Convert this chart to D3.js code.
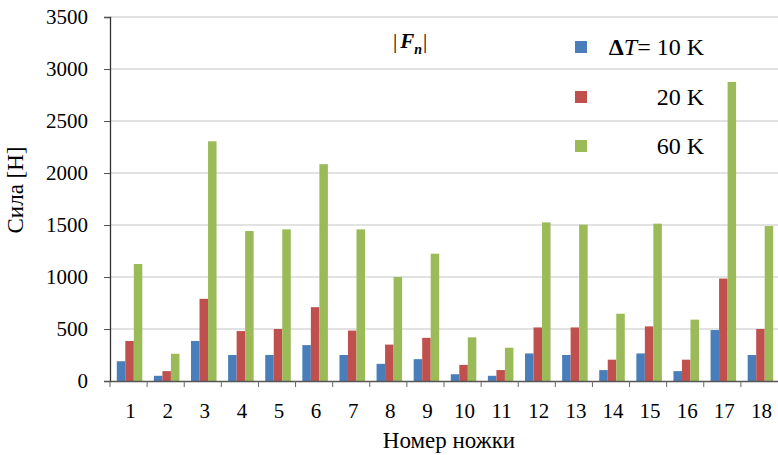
<!DOCTYPE html>
<html>
<head>
<meta charset="utf-8">
<script src="https://cdn.jsdelivr.net/npm/d3@7"></script>
<style>
  html, body { margin: 0; padding: 0; background: #fff; }
  svg { display: block; }
</style>
</head>
<body>
<svg id="chart" width="778" height="455"></svg>
<script>
// Leg numbers (x categories)
const legs = ["1","2","3","4","5","6","7","8","9","10","11","12","13","14","15","16","17","18"];
// Force magnitude |F_n| in N for each temperature difference
const dT10 = [190, 50, 385, 250, 250, 345, 250, 165, 210, 65, 50, 265, 250, 105, 265, 95, 490, 250];
const dT20 = [385, 95, 790, 480, 500, 710, 485, 350, 415, 155, 105, 515, 515, 205, 525, 205, 985, 500];
const dT60 = [1125, 262, 2305, 1442, 1458, 2085, 1458, 1000, 1224, 420, 320, 1525, 1503, 647, 1513, 590, 2875, 1490];
const seriesNames = ["10 K", "20 K", "60 K"];
const seriesColors = ["#4a7ebb", "#c0504d", "#9bbb59"];
const yTicks = [0, 500, 1000, 1500, 2000, 2500, 3000, 3500];

const SERIF = '"Liberation Serif", "Times New Roman", serif';
const svg = d3.select("#chart");
const margin = { left: 110, right: 0, top: 17, bottom: 74 };
const W = 778, H = 455;

const x = d3.scaleBand().domain(legs).range([margin.left, W - margin.right]).padding(0);
const xIn = d3.scaleBand().domain(d3.range(3)).range([0, x.bandwidth()]).paddingInner(0).paddingOuter(0.68);
const y = d3.scaleLinear().domain([0, 3500]).range([H - margin.bottom, margin.top]);

// horizontal grid
svg.append("g")
  .selectAll("line").data(yTicks.filter(d => d > 0)).join("line")
  .attr("x1", margin.left).attr("x2", W)
  .attr("y1", d => y(d)).attr("y2", d => y(d))
  .attr("stroke", "#c6c6c6").attr("stroke-width", 1.2);

// bars
const series = [dT10, dT20, dT60];
const groups = svg.append("g").selectAll("g").data(legs).join("g")
  .attr("transform", d => `translate(${x(d) + 1},0)`);
groups.selectAll("rect")
  .data((d, i) => series.map((s, k) => ({ k, v: s[i] })))
  .join("rect")
  .attr("x", d => xIn(d.k))
  .attr("width", xIn.bandwidth())
  .attr("y", d => y(d.v))
  .attr("height", d => y(0) - y(d.v))
  .attr("fill", d => seriesColors[d.k]);

// y axis
const yAxis = svg.append("g")
  .attr("transform", `translate(${margin.left},0)`)
  .call(d3.axisLeft(y).tickValues(yTicks).tickSize(6).tickPadding(16).tickFormat(d3.format("d")));
yAxis.select(".domain").attr("stroke", "#333").attr("stroke-width", 1.3);
yAxis.selectAll(".tick line").attr("stroke", "#555");
yAxis.selectAll(".tick text").style("font-family", SERIF).attr("font-size", 21).attr("fill", "#000");

// x axis
const xAxis = svg.append("g")
  .attr("transform", `translate(0,${y(0)})`)
  .call(d3.axisBottom(x).tickSize(0).tickPadding(22));
xAxis.select(".domain").attr("stroke", "#555").attr("stroke-width", 1.3);
xAxis.selectAll(".tick text").style("font-family", SERIF).attr("font-size", 21).attr("fill", "#000").attr("dx", 2);
// boundary tick marks between categories
svg.append("g").selectAll("line").data(legs).join("line")
  .attr("x1", d => x(d)).attr("x2", d => x(d))
  .attr("y1", y(0)).attr("y2", y(0) + 6)
  .attr("stroke", "#666").attr("stroke-width", 1);

// axis titles
svg.append("text")
  .attr("transform", `translate(23,190) rotate(-90)`)
  .style("font-family", SERIF)
  .attr("text-anchor", "middle").attr("font-size", 23).attr("fill", "#000")
  .text("Сила [Н]");
svg.append("text")
  .attr("x", 449).attr("y", 448)
  .style("font-family", SERIF)
  .attr("text-anchor", "middle").attr("font-size", 23).attr("fill", "#000")
  .text("Номер ножки");

// chart label |F_n|
const t = svg.append("text").attr("x", 393).attr("y", 48).attr("font-size", 21).attr("fill", "#000")
  .style("font-family", SERIF);
t.append("tspan").text("|");
t.append("tspan").attr("font-style", "italic").attr("font-weight", "bold").attr("dx", 3).text("F");
t.append("tspan").attr("font-style", "italic").attr("font-weight", "bold").attr("font-size", 14).attr("dy", 6).text("n");
t.append("tspan").attr("dy", -6).attr("dx", 1).text("|");

// legend
const legendY = [47, 97, 146];
const lg = svg.append("g");
seriesNames.forEach((name, i) => {
  lg.append("rect")
    .attr("x", 575).attr("y", legendY[i] - 6)
    .attr("width", 12).attr("height", 12)
    .attr("fill", seriesColors[i]);
  const tx = lg.append("text")
    .attr("x", 704).attr("y", legendY[i] + 8)
    .style("font-family", SERIF)
    .attr("text-anchor", "end").attr("font-size", 24).attr("fill", "#000");
  if (i === 0) {
    tx.append("tspan").attr("font-weight", "bold").text("Δ");
    tx.append("tspan").attr("font-style", "italic").text("T");
    tx.append("tspan").text("= " + name);
  } else {
    tx.text(name);
  }
});
</script>
</body>
</html>
